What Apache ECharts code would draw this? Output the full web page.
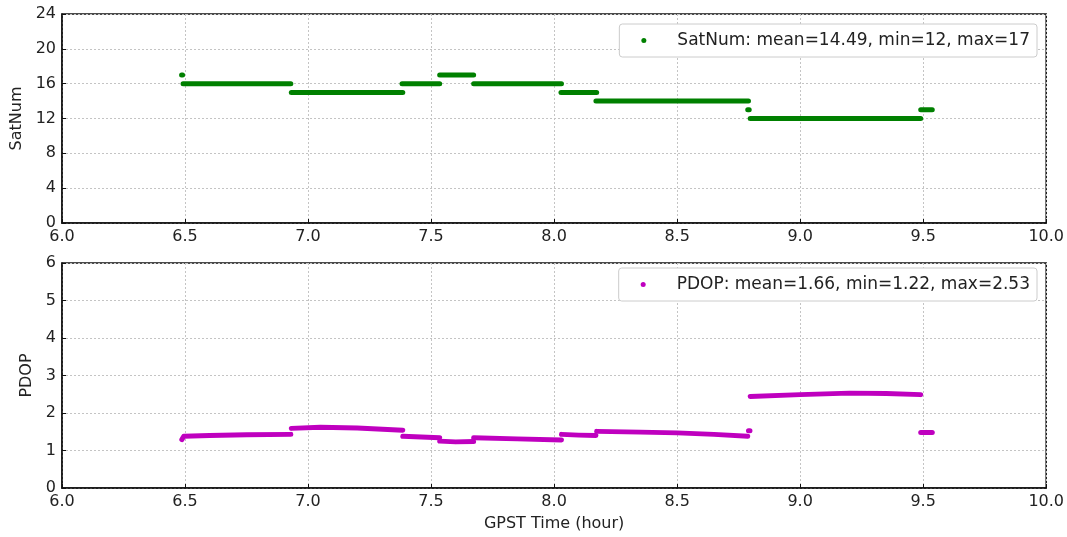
<!DOCTYPE html>
<html><head><meta charset="utf-8">
<script src="https://cdn.jsdelivr.net/npm/echarts@6/dist/echarts.min.js"></script>
<style>html,body{margin:0;padding:0;background:#fff}#c{width:1067px;height:537px}</style>
</head><body><div id="c"></div>
<script>
// ---- data ----
const xTicks = [6.0, 6.5, 7.0, 7.5, 8.0, 8.5, 9.0, 9.5, 10.0];
// SatNum: constant-value runs (start hour, end hour, satellites)
const satStart = [6.486, 6.492, 6.932, 7.382, 7.535, 7.673, 8.028, 8.170, 8.787, 8.797, 9.490];
const satEnd   = [6.490, 6.930, 7.385, 7.535, 7.673, 8.030, 8.173, 8.790, 8.793, 9.490, 9.537];
const satValue = [17, 16, 15, 16, 17, 16, 15, 14, 13, 12, 13];
// PDOP: runs of samples (hours and values per run)
const pdopHours = [
  [6.487, 6.495, 6.60, 6.75, 6.930],
  [6.932, 7.05, 7.20, 7.385],
  [7.385, 7.46, 7.535],
  [7.535, 7.60, 7.673],
  [7.673, 7.85, 8.030],
  [8.030, 8.10, 8.170],
  [8.173, 8.35, 8.50, 8.65, 8.787],
  [8.790, 8.796],
  [8.797, 9.00, 9.20, 9.35, 9.490],
  [9.490, 9.537]
];
const pdopValues = [
  [1.29, 1.38, 1.40, 1.42, 1.43],
  [1.59, 1.62, 1.60, 1.54],
  [1.38, 1.36, 1.34],
  [1.25, 1.23, 1.24],
  [1.34, 1.31, 1.28],
  [1.43, 1.41, 1.40],
  [1.51, 1.49, 1.47, 1.43, 1.38],
  [1.53, 1.53],
  [2.44, 2.49, 2.53, 2.52, 2.49],
  [1.48, 1.48]
];
const satName = 'SatNum: mean=14.49, min=12, max=17';
const pdopName = 'PDOP: mean=1.66, min=1.22, max=2.53';

const FONT = 'DejaVu Sans';
const green = '#008000', magenta = '#bf00bf';
const series = [];
for (let i = 0; i < satValue.length; i++) {
  series.push({type:'line', name:satName, xAxisIndex:0, yAxisIndex:0, showSymbol:false, silent:true,
    lineStyle:{color:green, width:5, cap:'round'}, itemStyle:{color:green},
    data:[[satStart[i], satValue[i]], [satEnd[i], satValue[i]]]});
}
for (let i = 0; i < pdopHours.length; i++) {
  series.push({type:'line', name:pdopName, xAxisIndex:1, yAxisIndex:1, showSymbol:false, silent:true,
    lineStyle:{color:magenta, width:5, cap:'round', join:'round'}, itemStyle:{color:magenta},
    data: pdopHours[i].map((h, j) => [h, pdopValues[i][j]])});
}
const xAxisBase = (gi, name) => ({
  type:'value', gridIndex:gi, min:6, max:10, interval:0.5,
  axisLine:{show:true, lineStyle:{color:'#111', width:1.5}},
  axisTick:{show:true, inside:true, length:4, lineStyle:{color:'#111'}},
  axisLabel:{formatter:v => v.toFixed(1), color:'#222', fontFamily:FONT, fontSize:16, margin:6},
  splitLine:{show:true, lineStyle:{color:'#c4c4c4', type:[2,2], width:1}},
  name:name, nameLocation:'middle', nameGap:28,
  nameTextStyle:{color:'#222', fontFamily:FONT, fontSize:16}
});
const yAxisBase = (gi, max, interval, name, gap) => ({
  type:'value', gridIndex:gi, min:0, max:max, interval:interval,
  axisLine:{show:true, lineStyle:{color:'#111', width:1.5}},
  axisTick:{show:true, inside:true, length:4, lineStyle:{color:'#111'}},
  axisLabel:{color:'#222', fontFamily:FONT, fontSize:16, margin:6},
  splitLine:{show:true, lineStyle:{color:'#c4c4c4', type:[2,2], width:1}},
  name:name, nameLocation:'middle', nameGap:gap, nameRotate:90,
  nameTextStyle:{color:'#222', fontFamily:FONT, fontSize:16}
});
const legendBase = {
  orient:'vertical', right:30, icon:'circle', itemWidth:5, itemHeight:5, itemGap:0,
  backgroundColor:'#fff', borderColor:'#ccc', borderWidth:1, borderRadius:3,
  padding:[8,7,8,22],
  textStyle:{color:'#222', fontFamily:FONT, fontSize:17, padding:[0,0,0,26]}
};
const chart = echarts.init(document.getElementById('c'), null, {renderer:'canvas'});
chart.setOption({
  animation:false,
  grid:[
    {left:62, right:20, top:14, bottom:314, show:true, borderColor:'#111', borderWidth:1.5},
    {left:62, right:20, top:263, bottom:49, show:true, borderColor:'#111', borderWidth:1.5}
  ],
  xAxis:[xAxisBase(0, ''), xAxisBase(1, 'GPST Time (hour)')],
  yAxis:[yAxisBase(0, 24, 4, 'SatNum', 28), yAxisBase(1, 6, 1, 'PDOP', 21)],
  legend:[
    Object.assign({}, legendBase, {top:24, data:[satName]}),
    Object.assign({}, legendBase, {top:268, data:[pdopName]})
  ],
  series: series
});
</script></body></html>
